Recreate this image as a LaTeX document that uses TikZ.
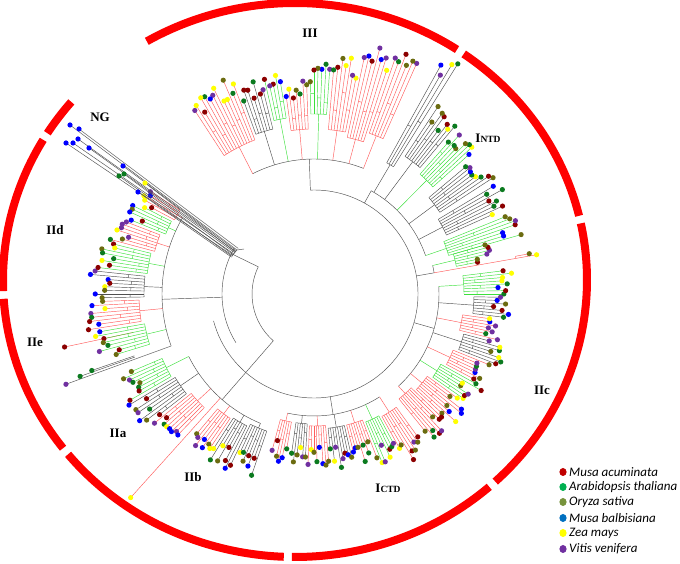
\documentclass[tikz,border=0pt]{standalone}
\usepackage{fontspec}
\setmainfont{Liberation Serif}
\newfontfamily\legfont{Carlito}
\definecolor{ringred}{HTML}{FF0000}
\definecolor{dot0}{HTML}{8B0000}
\definecolor{dot1}{HTML}{0B7A1F}
\definecolor{dot2}{HTML}{6B6B10}
\definecolor{dot3}{HTML}{0000FF}
\definecolor{dot4}{HTML}{FFFF00}
\definecolor{dot5}{HTML}{7030A0}
\definecolor{brk}{HTML}{505050}
\definecolor{brr}{HTML}{FF5C5C}
\definecolor{brg}{HTML}{3CE03C}
\definecolor{lg0}{HTML}{C00000}
\definecolor{lg1}{HTML}{00B050}
\definecolor{lg2}{HTML}{77933C}
\definecolor{lg3}{HTML}{0070C0}
\definecolor{lg4}{HTML}{FFFF00}
\definecolor{lg5}{HTML}{7030A0}
\tikzset{
  blk/.style={draw=brk,line width=0.45pt},
  rd/.style={draw=brr,line width=0.45pt},
  gn/.style={draw=brg,line width=0.45pt},
  ring/.style={draw=ringred,line width=8pt},
  lab/.style={font=\bfseries\fontsize{13}{13}\selectfont,inner sep=0pt},
  leg/.style={font=\legfont\itshape\fontsize{13}{13}\selectfont,anchor=west,inner sep=0pt}
}
% subclade: a1 a2 rbase r1 rleaf style
\newcommand\subcl[6]{%
  \pgfmathsetmacro\sm{(#1+#2)/2}%
  \draw[#6] (\sm:#3pt) -- (\sm:#4pt);%
  \draw[#6] (#1:#4pt) arc[start angle=#1,end angle=#2,radius=#4pt];%
  \pgfmathtruncatemacro\sn{max(2,round((#2-#1)/1.0)+1)}%
  \pgfmathsetmacro\sst{(#2-#1)/(\sn-1)}%
  \pgfmathtruncatemacro\sseed{round(abs(#1)*37+#5*3+11)}%
  \pgfmathsetseed{\sseed}%
  \foreach \si in {1,...,\sn}{%
    \pgfmathsetmacro\la{#1+(\si-1)*\sst}%
    \pgfmathsetmacro\lb{\la+\sst}%
    \pgfmathsetmacro\lr{#5+rnd*22-11}%
    \pgfmathsetmacro\lm{#4+(\lr-#4)*(0.25+0.3*rnd)}%
    \pgfmathtruncatemacro\ci{min(5,floor(6*rnd))}%
    \draw[#6] (\la:#4pt) -- (\la:\lr pt);%
    \ifodd\si\relax\ifnum\si<\sn\relax
      \draw[#6] (\la:\lm pt) arc[start angle=\la,end angle=\lb,radius=\lm pt];%
    \fi\fi
  }%
  \pgfmathsetseed{\sseed}%
  \foreach \si in {1,...,\sn}{%
    \pgfmathsetmacro\la{#1+(\si-1)*\sst}%
    \pgfmathsetmacro\lr{#5+rnd*22-11}%
    \pgfmathsetmacro\lm{#4+(\lr-#4)*(0.25+0.3*rnd)}%
    \pgfmathtruncatemacro\ci{min(5,floor(6*rnd))}%
    \fill[dot\ci] (\la:\lr pt) circle[radius=2.6pt];%
  }%
}
\begin{document}
\begin{tikzpicture}[x=1pt,y=1pt]
\useasboundingbox (0,0) rectangle (680,564);
% ---- outer ring ----
\begin{scope}[shift={(295,284)}]
  \draw[ring] (120.5:292pt and 277pt) arc[start angle=120.5,end angle=56.3,x radius=292pt,y radius=277pt];
  \draw[ring] (54.7:292pt and 277pt) arc[start angle=54.7,end angle=13.4,x radius=292pt,y radius=277pt];
  \draw[ring] (11.8:292pt and 277pt) arc[start angle=11.8,end angle=-46.7,x radius=292pt,y radius=277pt];
  \draw[ring] (-48.3:292pt and 277pt) arc[start angle=-48.3,end angle=-90.6,x radius=292pt,y radius=277pt];
  \draw[ring] (-92.2:292pt and 277pt) arc[start angle=-92.2,end angle=-141,x radius=292pt,y radius=277pt];
  \draw[ring] (-142.6:292pt and 277pt) arc[start angle=-142.6,end angle=-176.1,x radius=292pt,y radius=277pt];
  \draw[ring] (182.3:292pt and 277pt) arc[start angle=182.3,end angle=149.6,x radius=292pt,y radius=277pt];
  \draw[ring] (148:292pt and 277pt) arc[start angle=148,end angle=140,x radius=292pt,y radius=277pt];
\end{scope}
% ---- tree ----
\begin{scope}[shift={(314,270)}]
  % backbone
  \draw[blk] (154:62pt) arc[start angle=154,end angle=229,radius=62pt];
  \draw[blk] (154:62pt) -- (154:92pt);
  \draw[blk] (229:62pt) -- (229:104pt);
  \draw[blk] (150:92pt) arc[start angle=150,end angle=212,radius=92pt];
  \draw[blk] (195:104pt) arc[start angle=195,end angle=452,radius=104pt];
  % III
  \draw[blk] (92:104pt) -- (92:135pt);
  \draw[blk] (68.5:135pt) arc[start angle=68.5,end angle=117,radius=135pt];
  \subcl{111}{123}{135}{165}{222}{rd}
  \subcl{104}{110}{135}{170}{212}{blk}
  \subcl{99}{103}{135}{178}{212}{gn}
  \subcl{92}{98}{135}{165}{205}{rd}
  \subcl{86}{91}{135}{180}{222}{gn}
  \subcl{79}{85}{135}{165}{230}{rd}
  \subcl{72}{78}{135}{160}{245}{rd}
  \subcl{66}{71}{135}{170}{255}{rd}
  % I NTD
  \draw[blk] (61:104pt) -- (61:118pt);
  \draw[blk] (19:118pt) arc[start angle=19,end angle=61,radius=118pt];
  \subcl{58}{61}{118}{150}{262}{blk}
  \subcl{50}{56.5}{118}{165}{215}{blk}
  \subcl{42}{48.5}{118}{160}{212}{gn}
  \subcl{33}{40}{118}{150}{205}{blk}
  \subcl{24}{31}{118}{145}{205}{blk}
  \subcl{16}{22}{118}{140}{205}{gn}
  % long red branch
  \draw[blk] (10:104pt) -- (10:122pt);
  \draw[blk] (10:122pt) arc[start angle=10,end angle=13.5,radius=122pt];
  \draw[rd] (10:122pt) -- (10:226pt);
  \draw[rd] (10.6:205pt) -- (10.6:219pt);
  \draw[rd] (10:205pt) arc[start angle=10,end angle=10.6,radius=205pt];
  \subcl{11}{16}{122}{145}{172}{gn}
  \fill[dot2] (10.6:219pt) circle[radius=2.6pt];
  \fill[dot4] (10:226pt) circle[radius=2.6pt];
  % IIc
  \draw[blk] (-16:104pt) -- (-16:125pt);
  \draw[blk] (-47.5:125pt) arc[start angle=-47.5,end angle=3.5,radius=125pt];
  \subcl{0}{7}{125}{150}{190}{gn}
  \subcl{-7}{-1}{125}{160}{188}{blk}
  \subcl{-14}{-8}{125}{150}{185}{rd}
  \subcl{-21}{-15}{125}{155}{192}{blk}
  \subcl{-28}{-22}{125}{150}{185}{rd}
  \subcl{-35}{-29}{125}{145}{183}{gn}
  \subcl{-43}{-36}{125}{140}{180}{rd}
  \subcl{-51}{-44}{125}{135}{180}{rd}
  % I CTD
  \draw[blk] (-81:104pt) -- (-81:122pt);
  \draw[blk] (-102.5:122pt) arc[start angle=-102.5,end angle=-57.5,radius=122pt];
  \subcl{-61}{-54}{122}{140}{183}{rd}
  \subcl{-68}{-62}{122}{138}{175}{gn}
  \subcl{-76}{-69}{122}{135}{168}{rd}
  \subcl{-84}{-77}{122}{135}{165}{blk}
  \subcl{-92}{-85}{122}{132}{162}{rd}
  \subcl{-98}{-93}{122}{130}{162}{blk}
  \subcl{-105}{-100}{122}{130}{160}{rd}
  % IIa / IIb
  \draw[blk] (-131:104pt) -- (-131:140pt);
  \draw[blk] (-153.5:140pt) arc[start angle=-153.5,end angle=-112.5,radius=140pt];
  \draw[rd] (-132:140pt) -- (-132:274pt);
  \subcl{-157}{-150}{140}{165}{206}{gn}
  \subcl{-149}{-142}{140}{162}{205}{blk}
  \subcl{-141}{-134}{140}{158}{202}{rd}
  \subcl{-130}{-124}{140}{150}{182}{rd}
  \subcl{-123}{-117}{140}{148}{185}{blk}
  \subcl{-116}{-109}{140}{145}{182}{blk}
  \fill[dot4] (-132:274pt) circle[radius=2.6pt];
  % IIe / IId
  \draw[blk] (182:92pt) -- (182:152pt);
  \draw[blk] (150:152pt) arc[start angle=150,end angle=200,radius=152pt];
  \draw[rd] (192:185pt) -- (192:255pt);
  \draw[blk] (200:152pt) -- (200:264pt);
  \draw[blk] (199.4:190pt) -- (199.4:248pt);
  \draw[blk] (199:190pt) -- (199:235pt);
  \subcl{190}{197}{152}{172}{212}{gn}
  \subcl{182}{189}{152}{175}{218}{rd}
  \subcl{174}{181}{152}{170}{214}{blk}
  \subcl{166}{173}{152}{168}{210}{gn}
  \subcl{159}{165}{152}{165}{203}{rd}
  \subcl{153}{158}{152}{160}{196}{gn}
  \subcl{148}{152}{152}{158}{188}{rd}
  \fill[dot0] (192:255pt) circle[radius=2.6pt];
  \fill[dot5] (200:264pt) circle[radius=2.6pt];
  \fill[dot1] (199.4:248pt) circle[radius=2.6pt];
  \fill[dot1] (199:235pt) circle[radius=2.6pt];
\end{scope}
% ---- NG bundle (absolute) ----
\draw[blk] (238.2,315.6) -- (79,435);
\draw[blk] (237,314) -- (70,439);
\draw[blk] (235.8,312.4) -- (78,425);
\draw[blk] (234.9,311.2) -- (89,416);
\draw[blk] (234,310) -- (73,421);
\draw[blk] (232.8,308.4) -- (66,421);
\draw[blk] (236.4,313.2) -- (123,398);
\draw[blk] (235.5,312) -- (145,381);
\draw[blk] (233.4,309.2) -- (124,390);
\draw[blk] (232.2,307.6) -- (119,388);
\draw[blk] (231.6,306.8) -- (138,372);
\draw[blk] (232,308) -- (237,314);
\draw[blk] (237,314) -- (244,315);
\fill[dot3] (79,435) circle[radius=2.6pt];
\fill[dot3] (70,439) circle[radius=2.6pt];
\fill[dot3] (78,425) circle[radius=2.6pt];
\fill[dot3] (89,416) circle[radius=2.6pt];
\fill[dot3] (73,421) circle[radius=2.6pt];
\fill[dot3] (66,421) circle[radius=2.6pt];
\fill[dot3] (123,398) circle[radius=2.6pt];
\fill[dot4] (145,381) circle[radius=2.6pt];
\fill[dot1] (124,390) circle[radius=2.6pt];
\fill[dot1] (119,388) circle[radius=2.6pt];
\fill[dot3] (138,372) circle[radius=2.6pt];
% ---- labels ----
\node[lab] (lIII) at (310,531) {III};
\node[lab] (lINTD) at (488,426) {I\fontsize{9.5}{10}\selectfont NTD};
\node[lab] (lIIc) at (542,174) {IIc};
\node[lab] (lICTD) at (388,76) {I\fontsize{9.5}{10}\selectfont CTD};
\node[lab] (lIIb) at (193,87) {IIb};
\node[lab] (lIIa) at (118,131) {IIa};
\node[lab] (lIIe) at (35,222) {IIe};
\node[lab] (lIId) at (55,334) {IId};
\node[lab] (lNG) at (100,447) {NG};
% ---- legend ----
\fill[lg0] (563,92) ellipse[x radius=3.6pt,y radius=4pt];
\fill[lg1] (563,77) ellipse[x radius=3.6pt,y radius=4pt];
\fill[lg2] (563,62) ellipse[x radius=3.6pt,y radius=4pt];
\fill[lg3] (563,46) ellipse[x radius=3.6pt,y radius=4pt];
\fill[lg4] (563,31) ellipse[x radius=3.6pt,y radius=4pt];
\fill[lg5] (563,15) ellipse[x radius=3.6pt,y radius=4pt];
\node[leg] (k0) at (569,92) {Musa acuminata};
\node[leg] (k1) at (569,77) {Arabidopsis thaliana};
\node[leg] (k2) at (569,62) {Oryza sativa};
\node[leg] (k3) at (569,46) {Musa balbisiana};
\node[leg] (k4) at (569,31) {Zea mays};
\node[leg] (k5) at (569,15) {Vitis venifera};
\end{tikzpicture}
\end{document}
